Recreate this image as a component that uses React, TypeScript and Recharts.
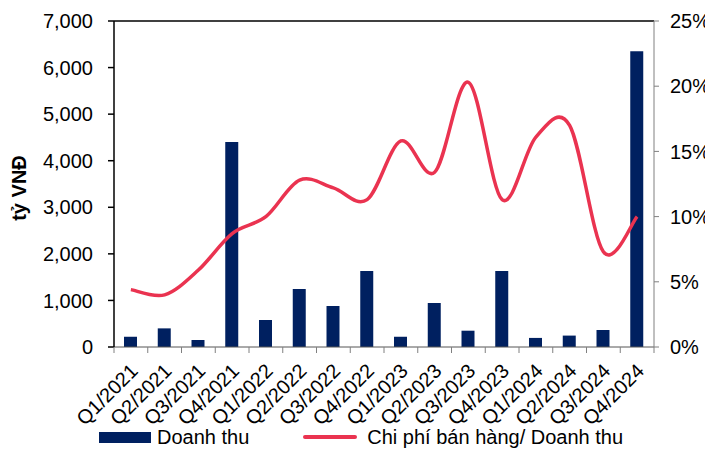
import React from "react";
import {
  ComposedChart,
  Bar,
  Line,
  XAxis,
  YAxis,
  Legend,
  ReferenceLine,
} from "recharts";

const quarters = [
  "Q1/2021", "Q2/2021", "Q3/2021", "Q4/2021",
  "Q1/2022", "Q2/2022", "Q3/2022", "Q4/2022",
  "Q1/2023", "Q2/2023", "Q3/2023", "Q4/2023",
  "Q1/2024", "Q2/2024", "Q3/2024", "Q4/2024",
];

// Doanh thu, tỷ VNĐ
const revenue = [220, 400, 150, 4400, 580, 1245, 880, 1630, 220, 945, 350, 1630, 195, 245, 365, 6350];

// Chi phí bán hàng / Doanh thu, %
const sellingCostRatio = [4.4, 4.0, 5.9, 8.7, 10.0, 12.8, 12.2, 11.3, 15.8, 13.4, 20.3, 11.3, 16.1, 17.0, 7.3, 10.0];

const revenueTicks = [0, 1000, 2000, 3000, 4000, 5000, 6000, 7000];
const ratioTicks = [0, 5, 10, 15, 20, 25];

const data = quarters.map((quarter, i) => ({
  quarter,
  revenue: revenue[i],
  ratio: sellingCostRatio[i],
}));

const FONT = '"Liberation Sans", Arial, sans-serif';
const NAVY = "#002060";
const RED = "#EA3350";

const W = 705;
const H = 450;
const LEFT_W = 114;
const RIGHT_W = 51;
const BAND = (W - LEFT_W - RIGHT_W) / quarters.length;

// smooth line through every point (catmull-rom), like spreadsheet "smoothed line"
const smoothCurve = (context: any) => {
  let pts: [number, number][] = [];
  return {
    areaStart() {},
    areaEnd() {},
    lineStart() {
      pts = [];
    },
    point(x: number, y: number) {
      pts.push([+x, +y]);
    },
    lineEnd() {
      if (!pts.length) return;
      context.moveTo(pts[0][0], pts[0][1]);
      for (let i = 0; i < pts.length - 1; i++) {
        const p0 = pts[Math.max(i - 1, 0)];
        const p1 = pts[i];
        const p2 = pts[i + 1];
        const p3 = pts[Math.min(i + 2, pts.length - 1)];
        context.bezierCurveTo(
          p1[0] + (p2[0] - p0[0]) / 6,
          p1[1] + (p2[1] - p0[1]) / 6,
          p2[0] - (p3[0] - p1[0]) / 6,
          p2[1] - (p3[1] - p1[1]) / 6,
          p2[0],
          p2[1]
        );
      }
    },
  };
};

const QuarterTick = (props: any) => {
  const { x, y, payload, index } = props;
  const px = x - 2;
  const py = y + 15;
  return (
    <g>
      <line x1={x - BAND / 2} y1={y} x2={x - BAND / 2} y2={y + 6} stroke="#808080" />
      {index === quarters.length - 1 && (
        <line x1={x + BAND / 2} y1={y} x2={x + BAND / 2} y2={y + 6} stroke="#808080" />
      )}
      <text
        transform={`translate(${px},${py}) rotate(-45)`}
        textAnchor="end"
        dy="0.72em"
        fontSize={20}
        fontFamily={FONT}
        fill="#000"
      >
        {payload.value}
      </text>
    </g>
  );
};

const ChartLegend = () => (
  <div
    style={{
      height: 28,
      display: "flex",
      alignItems: "center",
      fontFamily: FONT,
      fontSize: 20,
      color: "#000",
      paddingLeft: 99,
      whiteSpace: "nowrap",
    }}
  >
    <span style={{ width: 52, height: 11, background: NAVY, display: "inline-block" }} />
    <span style={{ marginLeft: 6 }}>Doanh thu</span>
    <span
      style={{
        width: 54,
        height: 4,
        borderRadius: 2,
        background: RED,
        display: "inline-block",
        marginLeft: 54,
      }}
    />
    <span style={{ marginLeft: 10 }}>Chi phí bán hàng/ Doanh thu</span>
  </div>
);

export default function App() {
  return (
    <div
      style={{
        position: "absolute",
        left: 0,
        top: 0,
        width: W,
        height: H,
        background: "#fff",
        overflow: "hidden",
      }}
    >
      <ComposedChart
        width={W}
        height={H}
        data={data}
        margin={{ top: 21, right: 0, bottom: 0, left: 0 }}
        barCategoryGap={0}
      >
        <XAxis
          dataKey="quarter"
          interval={0}
          height={75}
          stroke="#555"
          tickLine={false}
          tickSize={0}
          tickMargin={0}
          tick={<QuarterTick />}
        />
        <YAxis
          yAxisId="rev"
          orientation="left"
          width={LEFT_W}
          domain={[0, 7000]}
          ticks={revenueTicks}
          tickFormatter={(v: number) => v.toLocaleString("en-US")}
          stroke="#000"
          strokeWidth={1.5}
          tickSize={6}
          tickMargin={15}
          tick={{ fill: "#000", fontSize: 20, fontFamily: FONT }}
        />
        <YAxis
          yAxisId="pct"
          orientation="right"
          width={RIGHT_W}
          domain={[0, 25]}
          ticks={ratioTicks}
          tickFormatter={(v: number) => `${v}%`}
          stroke="#808080"
          tickSize={5}
          tickMargin={11}
          tick={{ fill: "#000", fontSize: 20, fontFamily: FONT }}
        />
        <ReferenceLine yAxisId="rev" y={7000} stroke="#000" strokeWidth={1.5} />
        <Bar
          yAxisId="rev"
          dataKey="revenue"
          name="Doanh thu"
          fill={NAVY}
          barSize={13}
          isAnimationActive={false}
        />
        <Line
          yAxisId="pct"
          dataKey="ratio"
          name="Chi phí bán hàng/ Doanh thu"
          type={smoothCurve as any}
          stroke={RED}
          strokeWidth={3.5}
          dot={false}
          activeDot={false}
          isAnimationActive={false}
        />
        <Legend
          verticalAlign="bottom"
          content={<ChartLegend />}
          wrapperStyle={{ left: 0, top: 423, width: W }}
        />
      </ComposedChart>
      <div
        style={{
          position: "absolute",
          left: 19,
          top: 188,
          transform: "translate(-50%, -50%) rotate(-90deg)",
          fontFamily: FONT,
          fontSize: 20,
          fontWeight: "bold",
          whiteSpace: "nowrap",
          color: "#000",
        }}
      >
        tỷ VNĐ
      </div>
    </div>
  );
}
